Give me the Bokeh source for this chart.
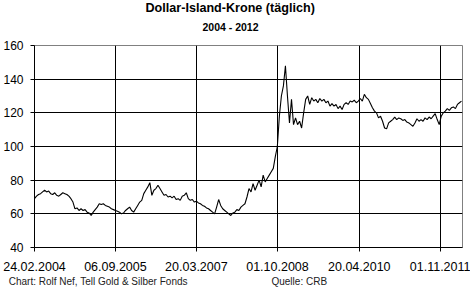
import pandas as pd
from bokeh.plotting import figure
from bokeh.models import (Range1d, FixedTicker, DatetimeTickFormatter, ColumnDataSource,
                          Title, LinearAxis)
from bokeh.embed import file_html
from bokeh.resources import INLINE

title_text = "Dollar-Island-Krone (täglich)"
subtitle_text = "2004 - 2012"
footer_left = "Chart: Rolf Nef, Tell Gold & Silber Fonds"
footer_right = "Quelle: CRB"

start_date = "2004-02-24"
end_date = "2012-04-03"
step = "14D"

tick_dates = ["2004-02-24", "2005-09-06", "2007-03-20", "2008-10-01", "2010-04-20", "2011-11-01"]
y_ticks = [40, 60, 80, 100, 120, 140, 160]

# USD/ISK, read every 14 days
isk = [
    69, 70.5, 71.5, 72, 73, 74, 73, 73.5, 72, 71.5,
    72.5, 71, 70.5, 71.5, 72.5, 72, 71.5, 70.5, 69, 67,
    63, 63.5, 62, 63, 62, 62.5, 61, 60.5, 59, 61,
    62.5, 64, 66, 65.5, 66, 65, 64.5, 64, 63, 62.5,
    62, 61.5, 61, 60, 60.5, 62, 63, 64, 62, 61,
    63, 65, 67, 68, 72, 74, 76, 78.5, 71, 74,
    75, 77, 75, 73, 71, 71.5, 70, 70.5, 69.5, 70.5,
    68.5, 69, 68, 70.5, 71, 72.5, 69, 68, 68.5, 67,
    67.5, 66.5, 66, 65, 64.5, 63.5, 63, 62, 61, 60,
    64, 68.5, 65, 63, 62, 61, 60, 59, 60.5, 61,
    62.5, 62, 64, 65, 66, 70, 75, 73, 78, 74,
    77, 80, 76, 83, 79, 81, 83, 85, 87, 94,
    100, 118, 130, 136, 148, 130, 114, 128, 113, 117,
    113, 115, 111, 120, 128, 130, 125, 129, 127, 128,
    126, 128.5, 127, 128, 126, 127, 124, 125.5, 124, 125,
    122.5, 124, 122, 125, 126, 125, 127, 126.5, 127.5, 126,
    127, 128.5, 127, 131, 129, 128, 125.5, 123, 121, 120,
    117, 118, 115, 111, 110.5, 114, 115, 116, 117.5, 116,
    117, 116.5, 115.5, 116, 114.5, 114, 113, 112, 114, 116.5,
    115, 116, 115, 117, 116, 117.5, 116.5, 118, 119.5, 116,
    113, 118, 120, 121, 122.5, 121.5, 123, 123.5, 122.5, 125,
    126, 127,
]

dates = pd.date_range(start_date, periods=len(isk), freq=step)
src = ColumnDataSource(dict(date=dates, value=isk))

p = figure(width=470, height=294, output_backend="svg", toolbar_location=None,
           x_axis_type="datetime",
           x_range=Range1d(pd.Timestamp(start_date), pd.Timestamp(end_date)),
           y_range=Range1d(40, 160),
           min_border_left=32, min_border_right=8, min_border_top=45, min_border_bottom=47)

p.line("date", "value", source=src, line_color="black", line_width=1.1)

p.background_fill_color = "white"
p.border_fill_color = "white"
p.outline_line_color = "#808080"
p.outline_line_width = 1

tick_ms = [pd.Timestamp(d).value / 1e6 for d in tick_dates]
p.xaxis.ticker = FixedTicker(ticks=tick_ms)
p.xaxis.formatter = DatetimeTickFormatter(days="%d.%m.%Y", months="%d.%m.%Y", years="%d.%m.%Y",
                                          hours="%d.%m.%Y", strip_leading_zeros=False)
p.yaxis.ticker = FixedTicker(ticks=y_ticks)

for ax in (p.xaxis, p.yaxis):
    ax.axis_line_color = "black"
    ax.major_tick_line_color = "black"
    ax.major_tick_in = 0
    ax.major_tick_out = 4
    ax.minor_tick_line_color = None
    ax.major_label_text_color = "black"
    ax.major_label_text_font = "Liberation Sans"
p.xaxis.major_label_text_font_size = "12.5px"
p.yaxis.major_label_text_font_size = "12px"
p.xaxis.major_label_standoff = 10
p.yaxis.major_label_standoff = 7

p.xgrid.ticker = FixedTicker(ticks=tick_ms)
p.ygrid.ticker = FixedTicker(ticks=y_ticks)
p.xgrid.grid_line_color = "black"
p.ygrid.grid_line_color = "black"

# footer line: an axis without line/ticks carrying the two source notes
p.extra_x_ranges = {"footer": Range1d(0, 430)}
footer_axis = LinearAxis(x_range_name="footer", ticker=FixedTicker(ticks=[64, 266]),
                         major_label_overrides={64: footer_left, 266: footer_right},
                         axis_line_color=None, major_tick_line_color=None,
                         minor_tick_line_color=None, major_tick_in=0, major_tick_out=0,
                         major_label_standoff=2, major_label_text_font="Liberation Sans",
                         major_label_text_font_size="10px", major_label_text_color="#222222")
p.add_layout(footer_axis, "below")

p.add_layout(Title(text=subtitle_text, align="left", offset=168, standoff=26,
                   text_font="Liberation Sans", text_font_style="bold",
                   text_font_size="10.5px", text_color="black"), "above")
p.add_layout(Title(text=title_text, align="left", offset=111, standoff=-19,
                   text_font="Liberation Sans", text_font_style="bold",
                   text_font_size="12.6px", text_color="black"), "above")

open("out.html", "w").write(file_html(p, INLINE))
